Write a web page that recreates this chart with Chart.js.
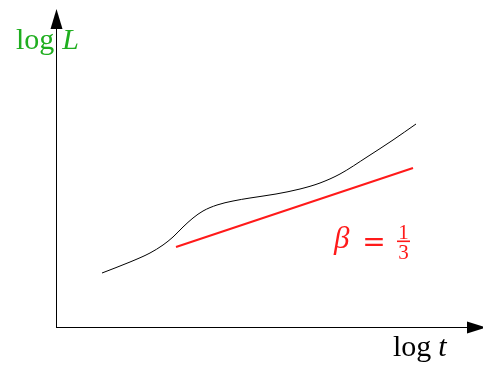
<!DOCTYPE html>
<html>
<head>
<meta charset="utf-8">
<script src="https://cdn.jsdelivr.net/npm/chart.js@4"></script>
<style>
  html, body { margin: 0; padding: 0; background: #fff; }
  #wrap { width: 483px; height: 366px; }
</style>
</head>
<body>
<div id="wrap"><canvas id="growthChart"></canvas></div>
<script>
// log t (x) and log L (y) samples of the measured curve
const curveX = [4.6, 7.4, 9.4, 10.7, 11.7, 12.7, 13.7, 14.7, 16.1, 17.7, 19.4, 22.0, 24.4, 26.4, 28.4, 31.1, 33.7, 36.0];
const curveY = [5.4, 6.5, 7.4, 8.2, 9.0, 10.0, 10.9, 11.6, 12.2, 12.6, 12.9, 13.3, 13.8, 14.4, 15.3, 17.0, 18.7, 20.3];

// reference power law with slope beta = 1/3
const fitX = [12.0, 35.7];
const fitY = [8.0, 15.9];

const green = "#1fae1f";
const red = "#ff1a1a";
const serif = "'Liberation Serif', 'DejaVu Serif', serif";

function toPoints(xs, ys) {
    return xs.map((x, i) => ({ x: x, y: ys[i] }));
}

// axes with arrow heads plus the math labels
const annotations = {
    id: "annotations",
    afterDraw(chart) {
        const ctx = chart.ctx;
        const area = chart.chartArea;
        const x0 = area.left, y0 = area.bottom;
        ctx.save();
        ctx.strokeStyle = "#000";
        ctx.fillStyle = "#000";
        ctx.lineWidth = 1;
        ctx.beginPath();
        ctx.moveTo(x0 + 0.5, y0);
        ctx.lineTo(x0 + 0.5, area.top + 15);
        ctx.moveTo(x0, y0 + 0.5);
        ctx.lineTo(chart.width - 5, y0 + 0.5);
        ctx.stroke();

        // y arrow
        ctx.beginPath();
        ctx.moveTo(x0 + 0.5, area.top - 1);
        ctx.lineTo(x0 - 5.5, area.top + 19);
        ctx.lineTo(x0 + 6.5, area.top + 19);
        ctx.closePath();
        ctx.fill();
        // x arrow
        ctx.beginPath();
        ctx.moveTo(chart.width + 3, y0 + 0.5);
        ctx.lineTo(chart.width - 16, y0 - 5.5);
        ctx.lineTo(chart.width - 16, y0 + 6.5);
        ctx.closePath();
        ctx.fill();

        ctx.textBaseline = "alphabetic";
        ctx.textAlign = "left";

        // log L
        ctx.fillStyle = green;
        ctx.font = "30px " + serif;
        ctx.fillText("log", 16, 49);
        let w = ctx.measureText("log").width;
        ctx.font = "italic 30px " + serif;
        ctx.fillText("L", 16 + w + 8, 49);

        // log t
        ctx.fillStyle = "#000";
        ctx.font = "30px " + serif;
        ctx.fillText("log", 393, 356);
        w = ctx.measureText("log").width;
        ctx.font = "italic 30px " + serif;
        ctx.fillText("t", 393 + w + 7, 356);

        // beta = 1/3
        ctx.fillStyle = red;
        ctx.font = "italic 31px " + serif;
        ctx.fillText("\u03b2", 334, 248);
        ctx.font = "28px 'DejaVu Serif', serif";
        ctx.textAlign = "center";
        ctx.fillText("=", 374, 251);
        ctx.font = "21px " + serif;
        ctx.fillText("1", 403.5, 239);
        ctx.fillText("3", 403.5, 259);
        ctx.fillRect(397, 240.5, 13, 1.6);
        ctx.restore();
    }
};

new Chart(document.getElementById("growthChart").getContext("2d"), {
    type: "line",
    data: {
        datasets: [{
            data: toPoints(curveX, curveY),
            borderColor: "#000",
            borderWidth: 1,
            pointRadius: 0,
            cubicInterpolationMode: "monotone",
            fill: false
        }, {
            data: toPoints(fitX, fitY),
            borderColor: red,
            borderWidth: 2,
            pointRadius: 0,
            fill: false
        }]
    },
    options: {
        responsive: true,
        maintainAspectRatio: false,
        animation: false,
        layout: { padding: { left: 56, right: 7, top: 10, bottom: 39 } },
        plugins: {
            legend: { display: false },
            tooltip: { enabled: false }
        },
        scales: {
            x: { type: "linear", min: 0, max: 42, display: false },
            y: { type: "linear", min: 0, max: 31.7, display: false }
        }
    },
    plugins: [annotations]
});
</script>
</body>
</html>
